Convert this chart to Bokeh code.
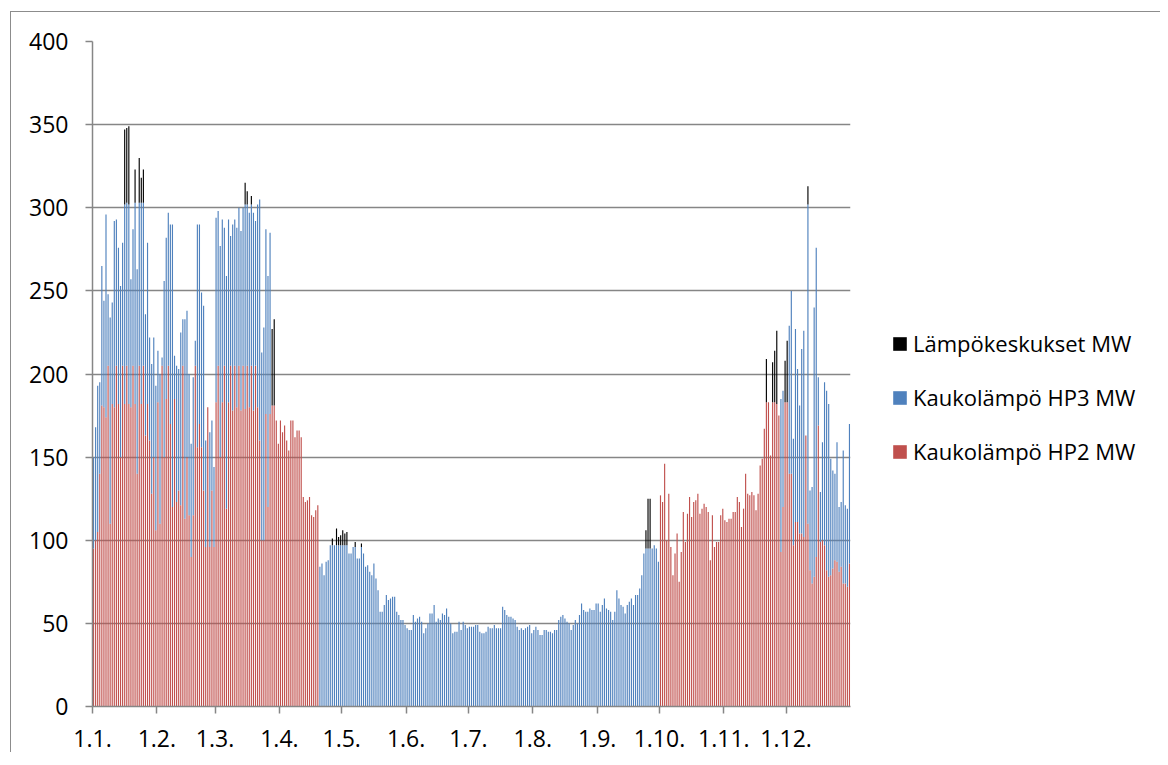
from bokeh.plotting import figure
from bokeh.layouts import row
from bokeh.models import Range1d, FixedTicker, Legend, LegendItem
from bokeh.embed import file_html
from bokeh.resources import INLINE

# ---- data (daily values, MW; days 0..364 of the year) ----
month_starts = [0, 31, 59, 90, 120, 151, 181, 212, 243, 273, 304, 334]
month_labels = ["1.1.", "1.2.", "1.3.", "1.4.", "1.5.", "1.6.", "1.7.", "1.8.", "1.9.", "1.10.", "1.11.", "1.12."]
y_ticks = [0, 50, 100, 150, 200, 250, 300, 350, 400]
series_names = ["Lämpökeskukset MW", "Kaukolämpö HP3 MW", "Kaukolämpö HP2 MW"]

# Kaukolämpö HP2 MW (bottom of each column)
hp2 = (
    [95, 100, 105, 140, 181, 180, 174, 205, 110, 182, 180, 205, 182, 150, 205, 182,
     205, 182, 180, 205, 182, 140, 205, 182, 205, 163, 182, 160, 128, 150, 106]
    + [183, 110, 205, 150, 185, 205, 170, 120, 185, 123, 130, 121, 205, 113, 150, 115,
       90, 115, 205, 156, 170, 156, 130, 96, 180, 96, 130, 96]
    + [183, 205, 150, 183, 205, 119, 183, 205, 178, 205, 180, 205, 178, 205, 179, 205,
       180, 205, 178, 205, 180, 160, 100, 100, 176, 120, 176, 181, 181, 172, 158]
    + [172, 165, 169, 160, 154, 172, 172, 162, 166, 166, 162, 126, 123, 124, 126, 115,
       114, 118, 121]
    + [0] * 164
    + [127, 123, 146, 100, 128, 96, 79, 92, 104, 75, 93, 117, 99, 116, 126, 114, 123,
       124, 128, 116, 119, 122, 120, 117, 88, 115, 96, 99, 99, 115, 119, 112, 111, 113,
       113, 117, 117, 126, 123, 108, 119, 140, 128, 127, 129, 127, 118, 128, 145, 149, 167]
    + [183, 183, 151, 183, 183, 182, 175, 93, 120, 183, 183, 140, 140, 97, 111, 111,
       104, 104, 102, 163, 110, 82, 74, 78, 90, 169, 99, 100, 97, 82, 78, 79, 83, 88,
       87, 81, 84, 74, 74, 72, 86]
)

# Kaukolämpö HP3 MW: top of the blue part of the column (0 = no HP3 on that day)
hp3 = (
    [150, 168, 193, 195, 265, 244, 296, 248, 234, 243, 292, 293, 276, 253, 279, 302,
     303, 302, 257, 287, 303, 263, 303, 303, 303, 236, 279, 222, 206, 222, 193]
    + [214, 200, 210, 256, 282, 297, 290, 290, 211, 205, 203, 225, 233, 233, 238, 200,
       158, 198, 220, 290, 290, 249, 241, 160, 175, 165, 172, 144]
    + [294, 298, 277, 293, 288, 259, 293, 283, 290, 293, 288, 300, 286, 300, 302, 302,
       297, 302, 297, 292, 302, 305, 213, 228, 287, 259, 285]
    + [0] * 23
    + [84, 86, 79, 87, 88, 97, 97, 97, 97, 97, 97, 97, 97, 97, 92, 92, 96, 96, 89, 89,
       96, 92, 84, 85, 81, 79, 86, 77, 70, 57, 57, 61, 67, 64, 65, 66, 66, 57, 55, 52]
    + [52, 49, 47, 46, 46, 55, 51, 53, 54, 51, 44, 47, 50, 56, 56, 61, 51, 53, 52, 56,
       55, 59, 54, 50, 44, 45, 45, 51, 46, 51, 49, 47, 48, 48, 48, 49, 49, 45, 44, 44,
       45, 48, 47, 47, 49, 47, 47, 47, 60, 58, 55, 54, 54, 53, 52, 48, 46, 47, 46, 47,
       48, 49, 44, 46, 48, 46, 43, 43, 46, 46, 45, 45, 44, 46, 46, 52, 54, 55, 53, 51,
       50, 46, 49, 52, 50, 55, 62, 58, 57, 57, 59, 58, 58, 62, 62, 57, 61, 65, 59, 58,
       57, 52, 57, 70, 65, 61, 60, 56, 61, 63, 65, 61, 67, 67, 71]
    + [79, 92, 95, 95, 95, 95, 97, 95, 87]
    + [0] * 51
    + [0, 0, 0, 0, 0, 0, 0, 185, 190, 0, 0, 229, 250, 161, 227, 203, 181, 215, 226, 0,
       302, 130, 132, 240, 276, 198, 129, 159, 195, 190, 182, 149, 142, 140, 159, 120,
       123, 154, 121, 119, 170]
)

# Lämpökeskukset MW: top of the black part of the column, only on the days listed
lampo_days = [15, 16, 17, 20, 22, 23, 24, 73, 74, 76, 86, 87, 115, 117, 118, 119, 120,
              121, 122, 126, 129, 266, 267, 268, 324, 327, 328, 329, 333, 334, 344]
lampo_tops = [347, 348, 349, 323, 330, 318, 323, 315, 310, 307, 227, 233, 101, 107, 102,
              103, 106, 104, 105, 99, 98, 106, 125, 125, 209, 207, 214, 226, 208, 220, 313]

RED = "#C0504D"
BLUE = "#4F81BD"
BLACK = "#000000"
GRID = "#868686"
FONT = "Open Sans"
colors = [BLACK, BLUE, RED]

days = [d + 0.5 for d in range(len(hp2))]
lampo_x = [d + 0.5 for d in lampo_days]
# stacked column: each part starts where the part below it ends
blue_bottom = [r if b > r else b for r, b in zip(hp2, hp3)]
black_bottom = [max(hp2[d], hp3[d]) for d in lampo_days]

H = 740
p = figure(width=844, height=H, output_backend="svg", toolbar_location=None,
           x_range=Range1d(0, 365), y_range=Range1d(0, 400),
           min_border_left=81, min_border_right=5, min_border_top=29, min_border_bottom=46)
p.outline_line_color = None
p.background_fill_color = "white"
p.border_fill_color = "white"

bw = 0.55
p.vbar(x=days, bottom=0, top=hp2, width=bw, color=RED, line_width=0)
p.vbar(x=days, bottom=blue_bottom, top=hp3, width=bw, color=BLUE, line_width=0)
p.vbar(x=lampo_x, bottom=black_bottom, top=lampo_tops, width=bw, color=BLACK, line_width=0)

p.xgrid.visible = False
p.ygrid.ticker = FixedTicker(ticks=y_ticks)
p.ygrid.grid_line_color = GRID
p.ygrid.grid_line_width = 1.3

for ax in (p.xaxis[0], p.yaxis[0]):
    ax.axis_line_color = GRID
    ax.axis_line_width = 1.5
    ax.major_tick_line_color = GRID
    ax.major_tick_line_width = 1.5
    ax.major_tick_in = 0
    ax.major_tick_out = 7
    ax.minor_tick_line_color = None
    ax.major_label_text_font = FONT
    ax.major_label_text_font_size = "23px"
    ax.major_label_text_color = "black"

p.xaxis.ticker = FixedTicker(ticks=month_starts)
p.xaxis.major_label_overrides = {m: lab for m, lab in zip(month_starts, month_labels)}
p.xaxis.major_label_standoff = 16
p.yaxis.ticker = FixedTicker(ticks=y_ticks)
p.yaxis.major_label_standoff = 17

# legend panel (right side of the chart area)
q = figure(width=305, height=H, output_backend="svg", toolbar_location=None,
           x_range=Range1d(0, 1), y_range=Range1d(0, 1), min_border=0)
q.axis.visible = False
q.grid.visible = False
q.outline_line_color = None
q.background_fill_color = "white"
q.border_fill_color = "white"
items = []
for name, c in zip(series_names, colors):
    # key renderer kept outside the visible range; only its legend swatch shows
    rr = q.quad(left=[-3], right=[-2], top=[-2], bottom=[-3], color=c, line_width=0)
    items.append(LegendItem(label=name, renderers=[rr]))

legend = Legend(items=items, location=(36, 240), orientation="vertical")
legend.border_line_color = None
legend.background_fill_alpha = 0
legend.padding = 0
legend.margin = 0
legend.glyph_width = 17
legend.glyph_height = 17
legend.label_standoff = 5
legend.label_text_font = FONT
legend.label_text_font_size = "22px"
legend.label_text_color = "black"
legend.label_height = 30
legend.spacing = 24
q.add_layout(legend, "center")

lay = row(p, q)
lay.styles = {"border-left": "1px solid #8c8c8c", "border-top": "1px solid #8c8c8c",
              "margin-left": "10px", "margin-top": "11px"}

open("out.html", "w").write(file_html(lay, INLINE))
